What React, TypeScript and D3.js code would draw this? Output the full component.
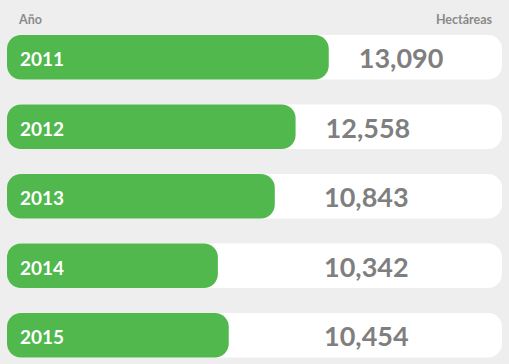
import React from "react";
import * as d3 from "d3";

const years = ["2011", "2012", "2013", "2014", "2015"];
const hectares = [13090, 12558, 10843, 10342, 10454];
// bar fill, as share of the white track
const barShare = [0.65, 0.583, 0.541, 0.426, 0.448];
const headerLeft = "Año";
const headerRight = "Hectáreas";

const W = 509;
const H = 364;
const FONT = "Lato, 'Open Sans', sans-serif";

export default function App() {
  const y = d3.scaleBand<string>().domain(years).range([35, 357.5]).paddingInner(0.36).paddingOuter(0);
  const x = d3.scaleLinear().domain([0, 1]).range([7, 502]);
  const fmt = d3.format(",");
  const bh = y.bandwidth();
  const r = 14;
  return (
    <svg
      width={W}
      height={H}
      style={{ position: "fixed", left: 0, top: 0, display: "block" }}
    >
      <rect x={0} y={0} width={W} height={H} fill="#eeeeee" />
      <text x={19} y={24} fontFamily={FONT} fontWeight={700} fontSize={12.5} fill="#8a8a8a">
        {headerLeft}
      </text>
      <text x={492} y={24} textAnchor="end" fontFamily={FONT} fontWeight={700} fontSize={12.5} fill="#8a8a8a">
        {headerRight}
      </text>
      {years.map((yr, i) => {
        const top = y(yr)!;
        const cy = top + bh / 2;
        const end = x(barShare[i]);
        const labelX = Math.max(324, end + 30);
        return (
          <g key={yr}>
            <rect x={x(0)} y={top} width={x(1) - x(0)} height={bh} rx={r} ry={r} fill="#ffffff" />
            <rect x={x(0)} y={top} width={end - x(0)} height={bh} rx={r} ry={r} fill="#50b84c" />
            <text x={20} y={cy + 9} fontFamily={FONT} fontWeight={700} fontSize={19} fill="#ffffff">
              {yr}
            </text>
            <text x={labelX} y={cy + 11} fontFamily={FONT} fontWeight={700} fontSize={27} fill="#7f7f7f">
              {fmt(hectares[i])}
            </text>
          </g>
        );
      })}
    </svg>
  );
}
